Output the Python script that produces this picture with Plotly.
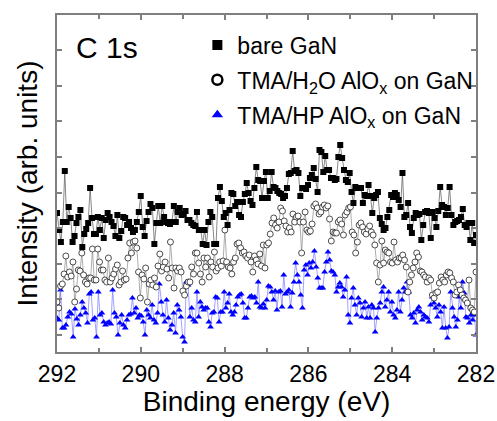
import numpy as np
import plotly.graph_objects as go

# Energy segments (eV) over which the read values are spread (reversed axis 292 -> 282)
seg_energy = [(292.0, 288.70), (288.66, 285.37), (285.33, 282.0)]

# bare GaN (arb. units)
bare_1 = [140, 123, 111, 131, 182, 131, 146, 135, 111, 117, 130, 136, 143, 106, 119, 124, 130, 165,
          135, 119, 119, 136, 123, 135, 115, 133, 140, 136, 131, 127, 117, 138, 115, 122, 136, 135,
          128, 131, 125, 121, 123, 131, 141, 157, 126, 117, 132, 141, 149, 145, 109, 130, 147, 130,
          147, 136, 131, 130, 129, 131, 147, 131, 141, 145, 138, 139, 142, 133, 133, 130, 128, 127]
bare_2 = [141, 123, 123, 109, 123, 108, 131, 141, 136, 109, 109, 155, 166, 152, 136, 140, 128, 143,
          160, 159, 147, 151, 138, 136, 151, 159, 170, 160, 152, 148, 165, 186, 173, 172, 155, 172,
          181, 155, 162, 181, 166, 165, 162, 160, 159, 155, 157, 165, 179, 180, 202, 182, 183, 180,
          157, 165, 165, 164, 168, 175, 178, 185, 174, 161, 203, 201, 181, 197, 183, 183, 175, 175, 173]
bare_3 = [174, 196, 208, 195, 183, 173, 171, 180, 161, 150, 166, 165, 165, 165, 150, 158, 157, 168,
          157, 140, 155, 158, 161, 135, 129, 123, 125, 136, 143, 158, 156, 160, 158, 153, 146, 180,
          136, 138, 150, 126, 120, 135, 140, 138, 139, 113, 128, 141, 142, 140, 115, 141, 135, 126,
          142, 166, 148, 146, 138, 145, 166, 138, 128, 131, 132, 133, 136, 144, 128, 126, 130, 113,
          130, 110, 118]

# TMA/H2O AlOx on GaN
h2o_1 = [51, 45, 67, 69, 79, 97, 76, 81, 77, 91, 51, 64, 83, 82, 100, 78, 71, 69, 75, 75, 104, 73,
         73, 104, 91, 83, 83, 73, 71, 95, 71, 75, 79, 84, 88, 68, 71, 82, 73, 74, 95, 110, 100, 111,
         112, 105, 81, 55, 78, 74, 85, 51, 69, 73, 68, 75, 66, 87, 99, 82, 86, 91, 84, 75, 111, 85,
         65, 85, 82, 85, 81, 62, 58, 67, 71, 71, 86, 79, 100]
h2o_2 = [100, 90, 79, 71, 95, 86, 95, 76, 91, 86, 101, 82, 85, 91, 87, 92, 123, 91, 86, 85, 79, 91,
         95, 109, 110, 105, 100, 101, 97, 95, 98, 91, 81, 97, 93, 89, 99, 87, 108, 85, 108, 110, 119,
         130, 135, 128, 125, 131, 145, 142, 132, 127, 121, 125, 121, 139, 131, 136, 137, 131, 100,
         131, 141, 123, 121, 122, 129, 147, 149, 145, 139, 141, 146, 148, 145, 147, 134, 112, 121, 120]
h2o_3 = [120, 131, 133, 129, 118, 138, 141, 145, 146, 121, 118, 100, 111, 128, 130, 126, 121, 119,
         124, 127, 121, 118, 108, 90, 71, 88, 112, 90, 103, 101, 100, 91, 90, 111, 93, 91, 95, 95, 98,
         93, 86, 61, 71, 78, 85, 91, 100, 96, 82, 81, 78, 76, 71, 75, 73, 58, 55, 60, 61, 70, 76, 73,
         71, 78, 81, 80, 75, 71, 58, 61, 68, 63, 58, 55, 53, 50, 73, 45, 43, 41, 81]

# TMA/HP AlOx on GaN
hp_1 = [35, 33, 63, 25, 25, 28, 36, 41, 39, 16, 44, 34, 28, 38, 51, 45, 40, 30, 59, 61, 33, 35, 16,
        61, 38, 40, 31, 28, 30, 31, 29, 63, 40, 36, 18, 30, 38, 28, 25, 33, 38, 39, 55, 40, 45, 35,
        38, 37, 31, 18, 43, 38, 35, 48, 33, 30, 40, 69, 51, 38, 31, 53, 35, 23, 28, 40, 20, 48, 43,
        36, 16, 11, 71, 68, 36, 45, 33, 31]
hp_2 = [61, 36, 51, 46, 43, 45, 45, 31, 26, 40, 41, 56, 55, 31, 41, 41, 61, 45, 50, 59, 41, 38, 41,
        48, 56, 58, 59, 50, 35, 35, 45, 56, 57, 55, 56, 50, 71, 46, 45, 49, 45, 53, 67, 66, 61, 53,
        62, 43, 61, 62, 46, 78, 59, 61, 63, 46, 60, 71, 90, 78, 71, 58, 45, 83, 88, 78, 90, 85, 91,
        102, 86, 75, 65, 65, 65, 81, 91, 101, 93, 82, 81, 78]
hp_3 = [61, 66, 70, 66, 56, 63, 76, 38, 30, 55, 65, 48, 38, 55, 50, 36, 45, 51, 35, 46, 35, 48, 45,
        21, 35, 45, 50, 61, 66, 46, 53, 61, 41, 51, 38, 35, 43, 61, 41, 53, 65, 61, 71, 61, 38, 35,
        40, 30, 43, 46, 41, 33, 38, 36, 35, 31, 48, 56, 50, 45, 36, 48, 41, 25, 46, 25, 15, 26, 61,
        45, 36, 26, 33, 56, 45, 71, 60, 36, 35, 30, 38, 33, 38, 18]

series_names = ["bare GaN",
                "TMA/H<sub>2</sub>O AlO<sub>x</sub> on GaN",
                "TMA/HP AlO<sub>x</sub> on GaN"]

x_ticks = [292, 290, 288, 286, 284, 282]


def energies(parts):
    xs = []
    for (a, b), vals in zip(seg_energy, parts):
        xs.extend(np.linspace(a, b, len(vals)).tolist())
    return xs


bare_y = bare_1 + bare_2 + bare_3
h2o_y = h2o_1 + h2o_2 + h2o_3
hp_y = hp_1 + hp_2 + hp_3

FONT = "Liberation Sans, Arial, sans-serif"
AX = "#7f7f7f"

fig = go.Figure()
fig.add_trace(go.Scatter(
    x=energies([hp_1, hp_2, hp_3]), y=hp_y, mode="lines+markers",
    line=dict(color="#7a7aff", width=0.7),
    marker=dict(symbol="triangle-up", size=6, color="#0000ff"),
    showlegend=False))
fig.add_trace(go.Scatter(
    x=energies([h2o_1, h2o_2, h2o_3]), y=h2o_y, mode="lines+markers",
    line=dict(color="#8a8a8a", width=0.7),
    marker=dict(symbol="circle", size=6, color="white", line=dict(color="#222", width=0.8)),
    showlegend=False))
fig.add_trace(go.Scatter(
    x=energies([bare_1, bare_2, bare_3]), y=bare_y, mode="lines+markers",
    line=dict(color="#555555", width=0.7),
    marker=dict(symbol="square", size=6, color="black"),
    showlegend=False))

# legend-only entries (markers only, as in the reference)
legend_markers = [
    dict(symbol="square", size=10, color="black"),
    dict(symbol="circle-open", size=10, color="black", line=dict(width=2.5)),
    dict(symbol="triangle-up", size=10, color="#0000ff"),
]
for i, (name, mk) in enumerate(zip(series_names, legend_markers)):
    fig.add_trace(go.Scatter(x=[None], y=[None], mode="markers", name=name, marker=mk,
                             legendgroup=f"g{i}"))

fig.add_annotation(text="C 1s", xref="paper", yref="paper", x=0.040, y=0.905,
                   xanchor="left", yanchor="middle", showarrow=False,
                   font=dict(family=FONT, size=30, color="black"))

fig.update_layout(
    width=497, height=421,
    margin=dict(l=57, r=21, t=15, b=69),
    paper_bgcolor="white", plot_bgcolor="white",
    font=dict(family=FONT, color="black"),
    legend=dict(x=0.335, y=0.975, xanchor="left", yanchor="top",
                font=dict(family=FONT, size=23), bgcolor="rgba(0,0,0,0)",
                tracegroupgap=2, itemsizing="trace"),
    xaxis=dict(range=[292, 282], tickvals=x_ticks, ticks="inside", ticklen=5, tickwidth=1.5,
               tickcolor=AX, showline=True, linecolor=AX, linewidth=1.8, mirror="allticks",
               showgrid=False, zeroline=False, tickfont=dict(family=FONT, size=23),
               minor=dict(dtick=1, tick0=282, ticks="inside", ticklen=4, tickcolor=AX, tickwidth=1.5),
               title=dict(text="Binding energy (eV)", font=dict(family=FONT, size=28), standoff=6),
               automargin=False),
    yaxis=dict(range=[1, 338], tick0=18, dtick=35.6, showticklabels=False, ticks="inside",
               ticklen=5, tickwidth=1.5, tickcolor=AX, showline=True, linecolor=AX, linewidth=1.8,
               mirror="allticks", showgrid=False, zeroline=False,
               title=dict(text="Intensity (arb. units)", font=dict(family=FONT, size=28), standoff=9),
               automargin=False),
)

fig.write_html("out.html")
